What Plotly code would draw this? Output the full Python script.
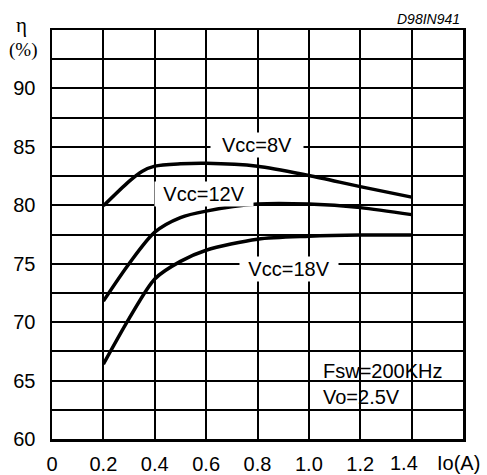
import plotly.graph_objects as go

io_8v = [0.2, 0.3, 0.35, 0.4, 0.5, 0.6, 0.8, 1.0, 1.2, 1.4]
eff_8v = [79.95, 82.05, 82.9, 83.35, 83.55, 83.6, 83.35, 82.55, 81.6, 80.7]
io_12v = [0.2, 0.3, 0.4, 0.5, 0.6, 0.8, 1.0, 1.2, 1.4]
eff_12v = [71.8, 75.0, 77.7, 78.95, 79.5, 80.1, 80.1, 79.8, 79.2]
io_18v = [0.2, 0.3, 0.4, 0.5, 0.6, 0.8, 1.0, 1.2, 1.4]
eff_18v = [66.4, 70.3, 73.7, 75.2, 76.15, 77.1, 77.35, 77.45, 77.45]

x_ticks = [0, 0.2, 0.4, 0.6, 0.8, 1.0, 1.2, 1.4, 1.6]
x_labels = ["0", "0.2", "0.4", "0.6", "0.8", "1.0", "1.2", "", ""]
y_ticks = [60, 62.5, 65, 67.5, 70, 72.5, 75, 77.5, 80, 82.5, 85, 87.5, 90, 92.5, 95]
y_labels = ["60", "", "65", "", "70", "", "75", "", "80", "", "85", "", "90", "", ""]

fig = go.Figure()
for xs, ys in ((io_8v, eff_8v), (io_12v, eff_12v), (io_18v, eff_18v)):
    fig.add_trace(go.Scatter(x=xs, y=ys, mode="lines",
                             line=dict(color="black", width=3.5, shape="spline", smoothing=0.8),
                             showlegend=False, hoverinfo="skip"))

SANS = "Liberation Sans, Arial, sans-serif"
font = dict(family=SANS, size=20, color="black")

fig.update_layout(
    width=487, height=475,
    margin=dict(l=52, r=24, t=30, b=36, autoexpand=False),
    paper_bgcolor="white", plot_bgcolor="white",
    font=font,
    xaxis=dict(range=[0, 1.6], tickvals=x_ticks, ticktext=x_labels,
               showgrid=True, gridcolor="black", gridwidth=2,
               showline=True, linecolor="black", linewidth=2.5, mirror=True,
               zeroline=False, ticks="", tickfont=font, ticklabelstandoff=5,
               fixedrange=True, automargin=False),
    yaxis=dict(range=[60, 95], tickvals=y_ticks, ticktext=y_labels,
               showgrid=True, gridcolor="black", gridwidth=2,
               showline=True, linecolor="black", linewidth=2.5, mirror=True,
               zeroline=False, ticks="", tickfont=font, ticklabelstandoff=10,
               fixedrange=True, automargin=False),
)

# white box behind the test-condition note
fig.add_shape(type="rect", x0=1.0, x1=1.576, y0=62.6, y1=67.3,
              fillcolor="white", line_width=0, layer="below")

def ann(x, y, text, w, **kw):
    d = dict(x=x, y=y, text=text, showarrow=False, font=font,
             bgcolor="white", borderpad=2, width=w, height=20)
    d.update(kw)
    fig.add_annotation(**d)

ann(0.798, 85.2, "Vcc=8V", 88)
ann(0.593, 81.0, "Vcc=12V", 94)
ann(0.924, 74.58, "Vcc=18V", 94)

fig.add_annotation(x=1.0455, y=64.73, text="Fsw=200KHz<br>Vo=2.5V", showarrow=False,
                   xanchor="left", yanchor="middle", align="left", font=font)

fig.add_annotation(x=1.4, y=0, xref="x", yref="paper", yanchor="top", xanchor="center",
                   yshift=-12, xshift=-8, borderpad=0, showarrow=False, text="1.4", font=font)
fig.add_annotation(xref="paper", yref="paper", x=0.99, y=-0.0587, xanchor="center",
                   yanchor="middle", borderpad=0, showarrow=False, text="Io(A)", font=font)

fig.add_annotation(xref="paper", yref="paper", x=0.998, y=1.027, xanchor="right",
                   yanchor="middle", showarrow=False, text="<i>D98IN941</i>",
                   font=dict(family=SANS, size=14, color="black"))
fig.add_annotation(xref="paper", yref="paper", x=-0.073, y=1.012, xanchor="center",
                   yanchor="middle", showarrow=False, text="η",
                   font=dict(family="Liberation Serif, serif", size=21, color="black"))
fig.add_annotation(xref="paper", yref="paper", x=-0.0706, y=0.951, xanchor="center",
                   yanchor="middle", showarrow=False, text="(%)",
                   font=dict(family="Liberation Serif, serif", size=19, color="black"))

fig.write_html("out.html", config={"displayModeBar": False, "staticPlot": True},
               post_script="document.body.style.margin='0';document.body.style.overflow='hidden';")
